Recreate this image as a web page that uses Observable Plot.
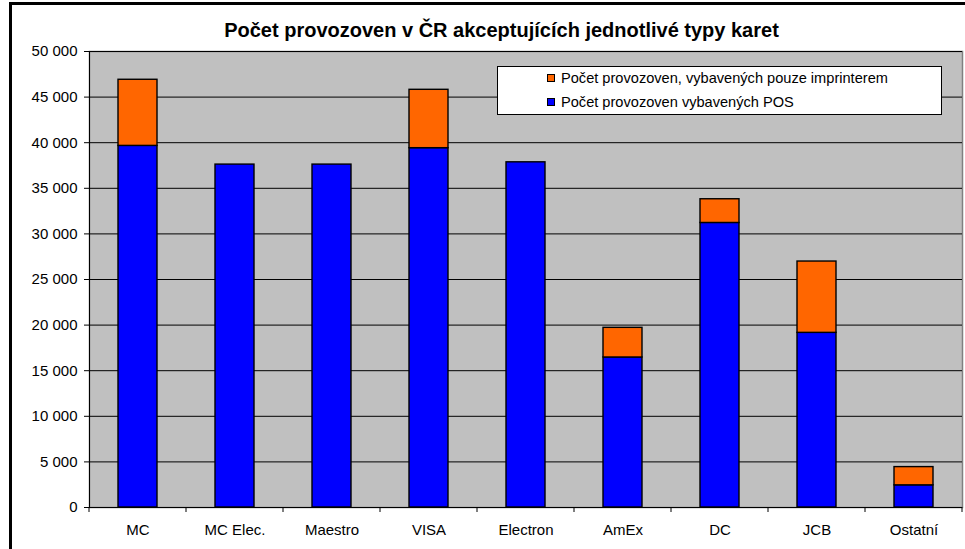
<!DOCTYPE html>
<html>
<head>
<meta charset="utf-8">
<script src="https://cdn.jsdelivr.net/npm/d3@7"></script>
<script src="https://cdn.jsdelivr.net/npm/@observablehq/plot@0.6"></script>
<style>
  body { margin: 0; background: #fff; font-family: "Liberation Sans", Arial, sans-serif; }
  #wrap { position: relative; width: 965px; height: 549px; overflow: hidden; }
  #frame { position: absolute; left: 9px; top: 2px; width: 1000px; height: 600px; border: 3px solid #000; pointer-events: none; }
  #title { position: absolute; left: 0; width: 1003px; top: 19px; text-align: center; font-weight: bold; font-size: 20px; color: #000; white-space: nowrap; }
  #legend { position: absolute; left: 497px; top: 66px; width: 443px; height: 47px; background: #fff; border: 1px solid #000; font-size: 14.6px; }
  .row { position: absolute; left: 49px; display: flex; align-items: center; white-space: nowrap; }
  .sw { width: 6px; height: 6px; border: 1px solid #000; margin-right: 6px; }
  #chart { position: absolute; left: 0; top: 0; }
</style>
</head>
<body>
<div id="wrap">
  <div id="chart"></div>
  <div id="title">Počet provozoven v ČR akceptujících jednotlivé typy karet</div>
  <div id="legend"></div>
  <div id="frame"></div>
</div>
<script>
const categories = ["MC", "MC Elec.", "Maestro", "VISA", "Electron", "AmEx", "DC", "JCB", "Ostatní"];
const posValues = [39650, 37600, 37600, 39400, 37850, 16450, 31200, 19150, 2430];
const imprinterValues = [7250, 0, 0, 6400, 0, 3250, 2600, 7820, 2000];
const seriesNames = ["Počet provozoven vybavených POS", "Počet provozoven, vybavených pouze imprinterem"];
const seriesColors = ["#0000FF", "#FF6600"];
const yTicks = [0, 5000, 10000, 15000, 20000, 25000, 30000, 35000, 40000, 45000, 50000];

const rows = [];
categories.forEach((c, i) => rows.push({cat: c, series: seriesNames[0], value: posValues[i]}));
categories.forEach((c, i) => { if (imprinterValues[i] > 0) rows.push({cat: c, series: seriesNames[1], value: imprinterValues[i]}); });

const fmt = d => d3.format(",")(d).replace(/,/g, " ");

// ticks at band boundaries, computed from the x scale
function boundaryTicks(index, scales, values, dimensions) {
  const x = scales.x;
  const step = x.step(), bw = x.bandwidth();
  const y0 = dimensions.height - dimensions.marginBottom;
  const g = d3.create("svg:g");
  const positions = categories.map(c => x(c) - (step - bw) / 2);
  positions.push(x(categories[categories.length - 1]) + bw + (step - bw) / 2);
  for (const p of positions) {
    g.append("line").attr("x1", p).attr("x2", p).attr("y1", y0).attr("y2", y0 + 5)
      .attr("stroke", "#000").attr("stroke-width", 1);
  }
  return g.node();
}

const chart = Plot.plot({
  width: 965,
  height: 549,
  marginTop: 51,
  marginBottom: 42,
  marginLeft: 89,
  marginRight: 3,
  style: {fontFamily: "Liberation Sans, Arial, sans-serif", fontSize: "15px", color: "#000", background: "transparent"},
  x: {domain: categories, paddingInner: 0.598, paddingOuter: 0.299, align: 0.5},
  y: {domain: [0, 50000]},
  color: {domain: seriesNames, range: seriesColors},
  marks: [
    Plot.frame({fill: "#C0C0C0", stroke: "#808080", strokeWidth: 1.5}),
    Plot.ruleY(yTicks, {stroke: "#000", strokeWidth: 1}),
    Plot.barY(rows, Plot.stackY({x: "cat", y: "value", fill: "series", stroke: "#000", strokeWidth: 1.4})),
    Plot.axisY({ticks: yTicks, tickFormat: fmt, tickSize: 5, tickPadding: 7, fontSize: 15, stroke: "#000", label: null}),
    Plot.axisX({tickSize: 0, tickPadding: 17, fontSize: 15, label: null}),
    Plot.ruleY([0], {stroke: "#000"}),
    Plot.frame({anchor: "left", stroke: "#000"}),
    boundaryTicks
  ]
});
document.getElementById("chart").appendChild(chart);

const legend = document.getElementById("legend");
[[1, 3], [0, 27]].forEach(([k, top]) => {
  const row = document.createElement("div");
  row.className = "row";
  row.style.top = top + "px";
  const sw = document.createElement("div");
  sw.className = "sw";
  sw.style.background = seriesColors[k];
  const t = document.createElement("span");
  t.textContent = seriesNames[k];
  row.appendChild(sw); row.appendChild(t);
  legend.appendChild(row);
});
</script>
</body>
</html>
